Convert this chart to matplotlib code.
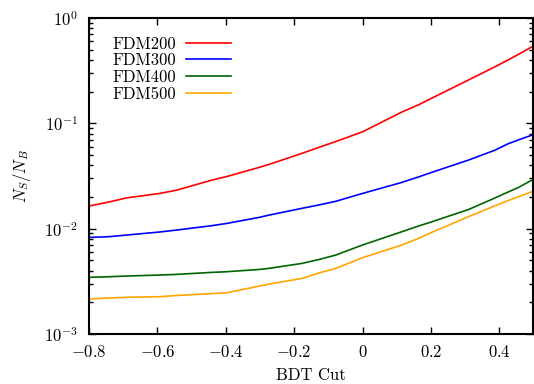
import matplotlib
matplotlib.use("Agg")
import matplotlib.pyplot as plt
import numpy as np

plt.rcParams['font.family'] = 'serif'
plt.rcParams['font.serif'] = ['cmr10']
plt.rcParams['mathtext.fontset'] = 'cm'
plt.rcParams['axes.formatter.use_mathtext'] = True
plt.rcParams['font.size'] = 12

# BDT cut values and N_S/N_B
bdt = [-0.8, -0.799, -0.739, -0.69, -0.593, -0.544, -0.439, -0.398, -0.302,
       -0.273, -0.177, -0.127, -0.078, 0.0, 0.115, 0.164, 0.202, 0.31, 0.388, 0.426, 0.455, 0.496]
fdm200 = [0.0144, 0.0164, 0.018, 0.0196, 0.0216, 0.0232, 0.029, 0.0312, 0.0382,
          0.0408, 0.0519, 0.0592, 0.0672, 0.083, 0.128, 0.150, 0.173, 0.258, 0.345, 0.40, 0.45, 0.534]
fdm300 = [0.0074, 0.00826, 0.0084, 0.0087, 0.0093, 0.0097, 0.0107, 0.0112, 0.0128,
          0.01346, 0.0156, 0.0168, 0.0182, 0.0216, 0.0275, 0.031, 0.0342, 0.0448, 0.0557, 0.064, 0.0694, 0.0774]
fdm400 = [0.0030, 0.00345, 0.00350, 0.00355, 0.00363, 0.00368, 0.00385, 0.0039, 0.0041,
          0.0042, 0.00468, 0.0051, 0.00562, 0.0070, 0.00935, 0.0106, 0.0116, 0.0152, 0.0196, 0.0223, 0.0245, 0.029]
fdm500 = [0.00192, 0.00215, 0.00220, 0.00223, 0.00226, 0.00232, 0.00242, 0.00246, 0.00285,
          0.00298, 0.00337, 0.0038, 0.0042, 0.0053, 0.0070, 0.0081, 0.0092, 0.0130, 0.0165, 0.0185, 0.0200, 0.0225]

labels = ['FDM200', 'FDM300', 'FDM400', 'FDM500']
colors = ['#ff0000', '#0000ff', '#006400', '#ffa500']
xticks = [-0.8, -0.6, -0.4, -0.2, 0, 0.2, 0.4]
xticklabels = ['$-0.8$', '$-0.6$', '$-0.4$', '$-0.2$', '$0$', '$0.2$', '$0.4$']

fig = plt.figure(figsize=(5.34, 3.84), dpi=100)
ax = fig.add_axes([89/534, 1-334/384, 1-89/534-0.001, (334-18)/384])

for y, lab, c in zip([fdm200, fdm300, fdm400, fdm500], labels, colors):
    ax.plot(bdt, y, color=c, lw=1.2, label=lab)

ax.set_yscale('log')
ax.set_xlim(-0.8, 0.5)
ax.set_ylim(1e-3, 1)
ax.set_xticks(xticks)
ax.set_xticklabels(xticklabels)
ax.tick_params(which='both', direction='in', top=True, right=True, width=1)
ax.tick_params(which='major', length=5)
ax.tick_params(which='minor', length=3)
ax.tick_params(axis='x', which='minor', bottom=False, top=False)
ax.tick_params(axis='x', which='major', pad=7)
ax.tick_params(axis='y', which='major', pad=8)
for s in ax.spines.values():
    s.set_linewidth(1.5)

ax.set_xlabel('BDT Cut', labelpad=6)
ax.set_ylabel('$N_S/N_B$', labelpad=8)

ax.legend(loc='upper left', frameon=False, markerfirst=False, handlelength=2.7,
          handletextpad=0.6, labelspacing=0.08, bbox_to_anchor=(0.037, 0.963),
          borderaxespad=0)

fig.savefig('out.png', dpi=100)
